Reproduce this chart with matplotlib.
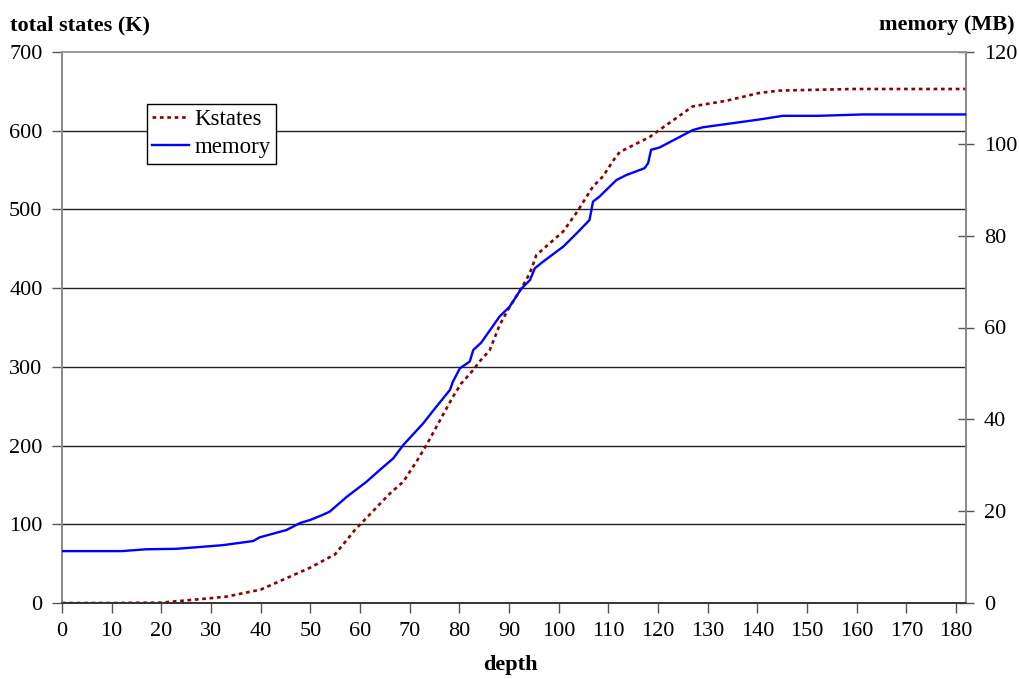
import matplotlib
matplotlib.use("Agg")
import matplotlib.pyplot as plt

plt.rcParams['font.family'] = ['Liberation Serif', 'DejaVu Serif']

# Kstates (total states, thousands) vs depth
k_depth = [0, 10, 20, 28, 33, 40, 45, 50, 55, 59, 62.5, 66, 68.7, 71.4, 73.4, 76.7, 78.7,
           80.4, 82.8, 84.1, 86.1, 88.1, 90.1, 92.5, 94.2, 95.5, 98.2, 100.9, 103.6,
           106.9, 108.9, 111.3, 112.3, 118.3, 120.3, 127, 133.7, 140.4, 144.5, 151.8,
           159.2, 182]
k_states = [0, 0, 0.5, 5, 8, 17, 31, 45, 62, 93, 116, 139, 154, 180, 201, 239, 262,
            279, 296, 307, 321, 353, 376, 400, 419, 442, 457, 472, 496,
            529, 542, 565, 573, 592, 601, 631, 638, 648, 651, 652,
            653, 653]

# memory (MB) vs depth
m_depth = [0, 12, 17, 23, 27.8, 32.4, 35.8, 38.5, 39.8, 45.2, 47.9, 50, 52.5, 53.9,
           57.3, 61.3, 64, 66.7, 68.7, 72.7, 75.4, 78.1, 78.7, 80.1, 82.1, 82.8, 84.4,
           88.1, 90.1, 92.5, 94.2, 95.2, 96.8, 100.9, 103.6, 106.2, 106.9, 108.2,
           111.6, 113.6, 117.3, 118, 118.6, 120.3, 127, 129, 133.7, 140.4, 145.1,
           152.2, 161.2, 182]
m_memory = [11.3, 11.3, 11.7, 11.8, 12.2, 12.6, 13.1, 13.5, 14.3, 15.9, 17.4, 18.1, 19.2, 19.9,
            23.1, 26.4, 29.0, 31.5, 34.4, 39.1, 42.8, 46.4, 48.2, 51.1, 52.6, 55.1, 56.7,
            62.4, 64.5, 68.5, 70.3, 72.9, 74.3, 77.6, 80.5, 83.4, 87.4, 88.5,
            92.1, 93.2, 94.7, 95.8, 98.7, 99.2, 103.0, 103.6, 104.3, 105.3, 106.1,
            106.1, 106.4, 106.4]

x_ticks = list(range(0, 181, 10))
left_ticks = list(range(0, 701, 100))
right_ticks = list(range(0, 121, 20))

red = '#8B0000'
blue = '#0000FF'
fs = 16

fig = plt.figure(figsize=(10.2, 6.79), dpi=100)
ax = fig.add_axes([62/1020, 1-603/679, 904/1020, 551/679])
ax2 = ax.twinx()

ax.set_xlim(0, 182)
ax.set_ylim(0, 700)
ax2.set_ylim(0, 120)

for v in left_ticks[1:-1]:
    ax.axhline(v, color='#222222', lw=1.0, zorder=1)

l1, = ax.plot(k_depth, k_states, color=red, lw=1.9, linestyle=(0, (1.4, 1.4)), zorder=3)
l2, = ax2.plot(m_depth, m_memory, color=blue, lw=1.7, zorder=3)

ax.set_xticks(x_ticks)
ax.set_yticks(left_ticks)
ax2.set_yticks(right_ticks)

ax.tick_params(axis='x', direction='out', length=7, width=1, color='#555555', pad=7, labelsize=fs)
ax.tick_params(axis='y', direction='out', length=7, width=1, color='#555555', pad=7, labelsize=fs)
ax2.tick_params(axis='y', direction='inout', length=12, width=1, color='#555555', pad=7, labelsize=fs)

for a in (ax, ax2):
    a.spines['top'].set_color('#999999')
    a.spines['left'].set_color('#888888')
    a.spines['right'].set_color('#888888')
    a.spines['bottom'].set_color('#333333')
    for s in a.spines.values():
        s.set_linewidth(1.2)

fig.text(10/1020, 1-25/679, 'total states (K)', fontsize=fs, fontweight='bold', ha='left', va='center')
fig.text(1015/1020, 1-25/679, 'memory (MB)', fontsize=fs, fontweight='bold', ha='right', va='center')
fig.text(510/1020, 1-665/679, 'depth', fontsize=fs, fontweight='bold', ha='center', va='center')

leg = ax2.legend([l1, l2], ['Kstates', 'memory'], loc='upper left',
                 bbox_to_anchor=((147-62)/904, (603-104)/551), borderaxespad=0,
                 fancybox=False, edgecolor='black', framealpha=1, fontsize=16.5,
                 handlelength=1.6, handletextpad=0.25, labelspacing=0.32,
                 borderpad=0.22)
leg.get_frame().set_linewidth(1.0)

fig.savefig('out.png', dpi=100)
